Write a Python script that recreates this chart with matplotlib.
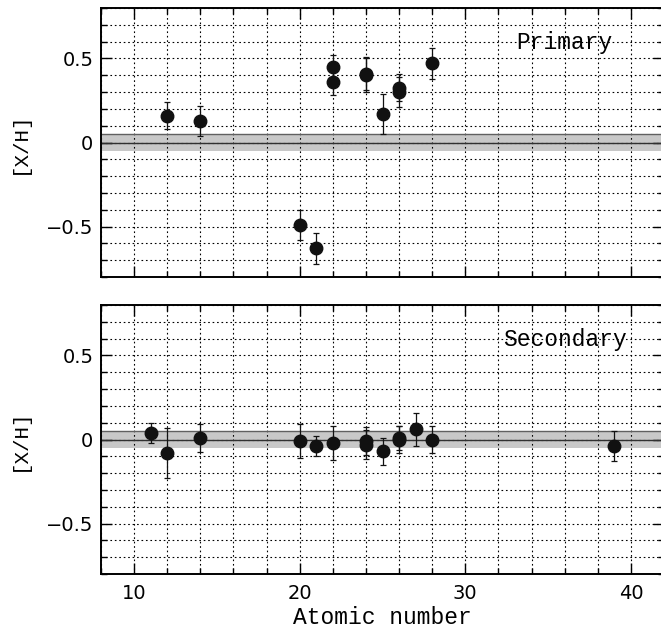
import matplotlib.pyplot as plt
from matplotlib.ticker import MultipleLocator

# abundances [X/H] vs atomic number
prim_z = [12, 14, 20, 21, 22, 22, 24, 24, 25, 26, 26, 28]
prim_xh = [0.16, 0.13, -0.49, -0.63, 0.45, 0.36, 0.41, 0.40, 0.17, 0.325, 0.30, 0.47]
prim_err = [0.08, 0.09, 0.09, 0.09, 0.07, 0.08, 0.10, 0.10, 0.12, 0.08, 0.09, 0.09]

sec_z = [11, 12, 14, 20, 21, 22, 24, 24, 25, 26, 26, 27, 28, 39]
sec_xh = [0.04, -0.08, 0.01, -0.01, -0.04, -0.02, -0.01, -0.03, -0.07, 0.0, 0.01, 0.06, 0.0, -0.04]
sec_err = [0.06, 0.15, 0.085, 0.10, 0.06, 0.10, 0.085, 0.085, 0.08, 0.08, 0.07, 0.10, 0.08, 0.09]

labels = ["Primary", "Secondary"]

serif = "Liberation Mono"
sans = "DejaVu Sans"

fig = plt.figure(figsize=(6.61, 6.31), dpi=100)
ax1 = fig.add_axes([101 / 661, 1 - 277 / 631, 563 / 661, 269 / 631])
ax2 = fig.add_axes([101 / 661, 1 - 574 / 631, 563 / 661, 269 / 631])

for ax, z, xh, err, lab in [(ax1, prim_z, prim_xh, prim_err, labels[0]),
                            (ax2, sec_z, sec_xh, sec_err, labels[1])]:
    ax.set_xlim(8, 42)
    ax.set_ylim(-0.8, 0.8)
    ax.axhspan(-0.05, 0.05, color="#c8c8c8", lw=0, zorder=0)
    ax.axhline(0.05, color="#606060", lw=1.0, zorder=1)
    ax.axhline(0.0, color="#303030", lw=1.0, zorder=1)
    ax.errorbar(z, xh, yerr=err, fmt="o", color="#111111", ms=9,
                elinewidth=0.9, capsize=2.5, capthick=0.9, zorder=5)
    ax.xaxis.set_major_locator(MultipleLocator(10))
    ax.xaxis.set_minor_locator(MultipleLocator(2))
    ax.yaxis.set_major_locator(MultipleLocator(0.5))
    ax.yaxis.set_minor_locator(MultipleLocator(0.1))
    ax.grid(which="both", color="black", ls=(0, (1.5, 2.5)), lw=0.8)
    ax.set_axisbelow(True)
    ax.tick_params(which="both", direction="in", top=True, right=True, width=1.0)
    ax.tick_params(which="major", length=8, labelsize=14)
    ax.tick_params(which="minor", length=4)
    ax.tick_params(axis="y", pad=5.5)
    ax.tick_params(axis="x", pad=7)
    for s in ax.spines.values():
        s.set_linewidth(1.4)
    ax.set_yticks([-0.5, 0, 0.5])
    ax.set_yticklabels(["\u22120.5", "0", "0.5"], family=sans)
    ax.set_ylabel("[X/H]", family=serif, fontsize=15, labelpad=12)
    ax.text(36, 0.555, lab, family=serif, fontsize=16.5, ha="center", va="baseline")

ax1.set_xticklabels([])
ax2.set_xticks([10, 20, 30, 40])
ax2.set_xticklabels(["10", "20", "30", "40"], family=sans)
ax2.set_xlabel("Atomic number", family=serif, fontsize=16.5, labelpad=2)

fig.savefig("out.png", dpi=100)
